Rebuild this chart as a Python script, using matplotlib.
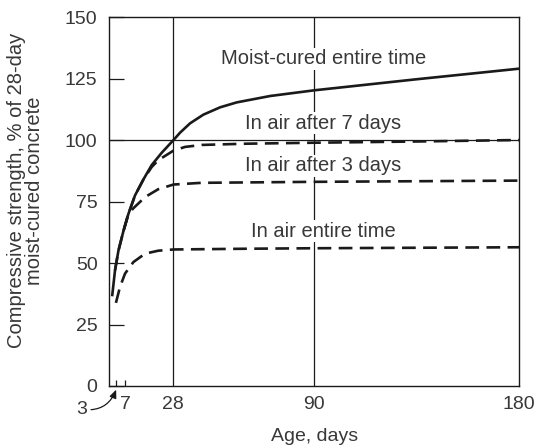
import matplotlib.pyplot as plt

plt.rcParams["font.family"] = ["Liberation Sans", "DejaVu Sans"]

TEXT_COLOR = "#383838"
LINE_COLOR = "#1a1a1a"

# Curves (age in days, strength in % of 28-day moist-cured)
moist_days = [1.3, 2.5, 4, 6.2, 8.4, 11.3, 15, 18.6, 23, 28.2, 31.1, 35.5, 41.3, 48.7, 56, 70.7, 90, 135, 180]
moist_vals = [37, 47, 55, 63, 70, 77.5, 84, 89.8, 94.8, 100, 103.0, 106.8, 110.3, 113.3, 115.3, 117.9, 120.2, 124.7, 129]

air7_days = [6.2, 8.4, 11.3, 15, 18.6, 21.5, 28.2, 33.3, 40.6, 60, 90, 135, 180]
air7_vals = [63, 70, 77.5, 84, 89.0, 91.8, 95.7, 97.2, 98.0, 98.5, 98.9, 99.4, 100]

air3_days = [2.5, 4, 6.2, 8.4, 10.5, 15.7, 21.5, 28.2, 40.6, 90, 180]
air3_vals = [47, 55, 63, 70, 72.2, 76.8, 80.0, 81.9, 82.6, 83.0, 83.5]

air_days = [2.9, 4.7, 6.9, 10.6, 15.7, 21.5, 28.2, 60, 90, 180]
air_vals = [33.8, 40.3, 45.7, 50.4, 53.8, 55.0, 55.5, 55.8, 56.0, 56.4]

y_ticks = [0, 25, 50, 75, 100, 125, 150]
x_labels = {7: "7", 28: "28", 90: "90", 180: "180"}

labels = [
    ("Moist-cured entire time", 94, 133),
    ("In air after 7 days", 94, 106.8),
    ("In air after 3 days", 94, 89.6),
    ("In air entire time", 94, 63),
]

FS = 14


def main():
    fig = plt.figure(figsize=(5.38, 4.48), dpi=100)
    ax = fig.add_axes([0.2032, 0.1384, 0.7615, 0.8236])
    ax.set_xlim(0, 180)
    ax.set_ylim(0, 150)

    # Reference lines
    for xv in (28, 90):
        ax.axvline(xv, color=LINE_COLOR, lw=0.9, zorder=1)
    ax.axhline(100, color=LINE_COLOR, lw=0.9, zorder=1)

    lw = 1.9
    ax.plot(moist_days, moist_vals, color=LINE_COLOR, lw=lw, zorder=4)
    dash = (5.2, 2.8)
    for d, v in [(air7_days, air7_vals), (air3_days, air3_vals), (air_days, air_vals)]:
        ax.plot(d, v, color=LINE_COLOR, lw=lw, dashes=dash, zorder=3)

    for text, xv, yv in labels:
        ax.text(xv, yv, text, ha="center", va="center", fontsize=14.5,
                color=TEXT_COLOR, zorder=2,
                bbox=dict(facecolor="white", edgecolor="none", pad=1.0))

    # Axes styling
    for sp in ax.spines.values():
        sp.set_color(LINE_COLOR)
        sp.set_linewidth(1.0)

    ax.set_yticks(y_ticks)
    ax.set_yticklabels([str(v) for v in y_ticks])
    ax.tick_params(axis="y", direction="in", length=11, width=0.9,
                   colors=LINE_COLOR, labelcolor=TEXT_COLOR, labelsize=FS, pad=8.5)

    ax.set_xticks([3, 7])
    ax.set_xticklabels(["", ""])
    ax.tick_params(axis="x", direction="in", length=4.5, width=0.9,
                   colors=LINE_COLOR)
    for xv, lab in x_labels.items():
        ax.annotate(lab, xy=(xv, 0), xytext=(0, -7), textcoords="offset points",
                    ha="center", va="top", fontsize=FS, color=TEXT_COLOR,
                    annotation_clip=False)

    # Little arrow pointing to the 3-day tick
    ax.annotate("3", xy=(3, -1.5), xytext=(-25, -14), textcoords="offset points",
                ha="center", va="center", fontsize=FS, color=TEXT_COLOR,
                annotation_clip=False,
                arrowprops=dict(arrowstyle="-|>,head_length=0.35,head_width=0.15",
                                color=LINE_COLOR, lw=0.9, shrinkA=1, shrinkB=0,
                                connectionstyle="arc3,rad=0.4"))

    ax.set_xlabel("Age, days", fontsize=FS, color=TEXT_COLOR, va="top")
    ax.xaxis.set_label_coords(0.5, -0.115)
    ax.set_ylabel("Compressive strength, % of 28-day\nmoist-cured concrete",
                  fontsize=14.5, color=TEXT_COLOR, linespacing=0.95)
    ax.yaxis.set_label_coords(-0.16, 0.53)

    fig.savefig("out.png", dpi=100)


if __name__ == "__main__":
    main()
